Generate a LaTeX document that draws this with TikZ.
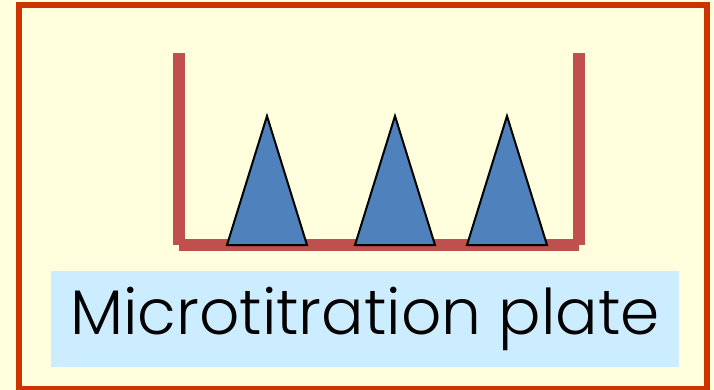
\documentclass[tikz,border=0pt]{standalone}
\usepackage{fontspec}
\setmainfont{Poppins}[UprightFont=* Light]
\usepackage{tikz}
\usetikzlibrary{positioning}
\definecolor{bgyellow}{HTML}{FFFFDD}
\definecolor{frameorange}{HTML}{CC3300}
\definecolor{wellred}{HTML}{C0504D}
\definecolor{tipblue}{HTML}{4F81BD}
\definecolor{labelblue}{HTML}{CCECFF}
\tikzset{
    myframe/.style={draw=frameorange,line width=6pt},
    mywall/.style={draw=wellred,line width=12pt,line cap=butt},
    mytip/.style={draw=black,fill=tipblue,line width=2pt,line join=miter},
    mylabel/.style={fill=labelblue,inner sep=0pt,minimum width=628pt,minimum height=96pt,
        font=\fontsize{63}{70}\selectfont}
}
\begin{document}
\begin{tikzpicture}[x=1pt,y=-1pt]
  \useasboundingbox[fill=bgyellow] (0,0) rectangle (714,390);

  % outer frame
  \draw[myframe] (19,5) rectangle (707,389);

  % well walls
  \coordinate (W0) at (179,53);
  \coordinate (W1) at (179,245);
  \coordinate (W2) at (579,245);
  \coordinate (W3) at (579,53);
  \draw[mywall] (W0)--(W1);
  \draw[mywall] (W1)--(W2);
  \draw[mywall] (W3)--(W2);

  % three tips
  \foreach \x in {267,395,507}{
    \draw[mytip] (\x-40,245)--(\x,116)--(\x+40,245)--cycle;
  }

  % label
  \node[mylabel] (plate) at (365,319) {Microtitration plate};
\end{tikzpicture}
\end{document}
